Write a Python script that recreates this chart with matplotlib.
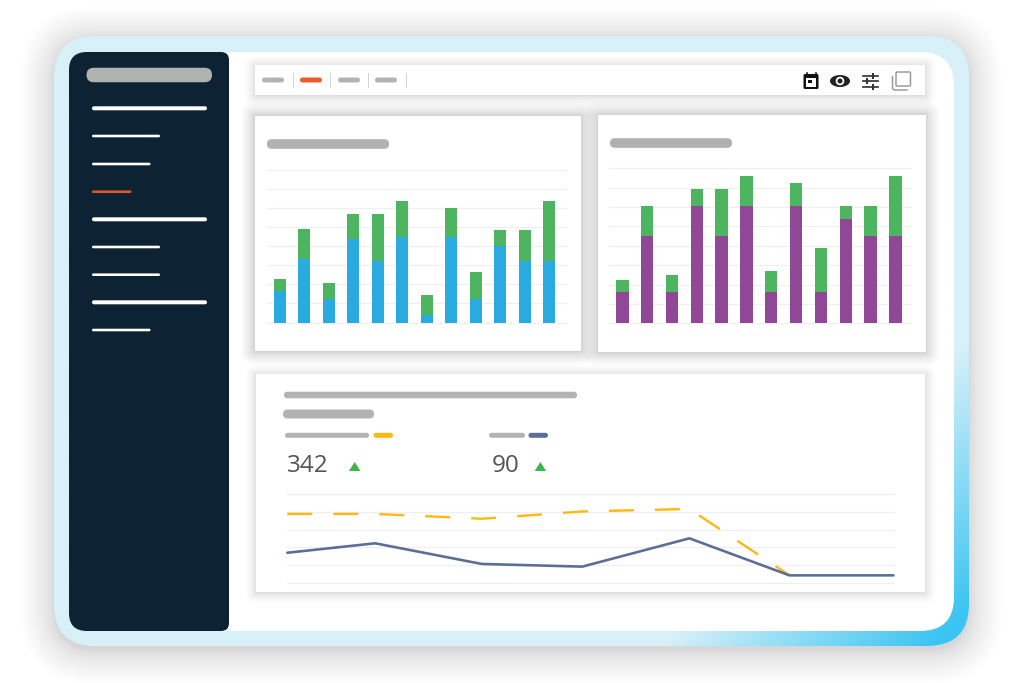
import numpy as np
import matplotlib
matplotlib.use("Agg")
import matplotlib.pyplot as plt
from matplotlib.colors import LinearSegmentedColormap
from matplotlib.patches import Circle, Ellipse, FancyBboxPatch, Polygon, Rectangle

plt.rcParams["font.family"] = ["Open Sans", "DejaVu Sans"]

W, H = 1024, 683

# Left stacked bars (in grid steps)
left_blue = [1.64, 3.33, 1.22, 4.37, 3.24, 4.49, 0.38, 4.49, 1.22, 3.99, 3.24, 3.24]
left_green = [0.61, 1.57, 0.87, 1.31, 2.44, 1.85, 1.05, 1.52, 1.41, 0.84, 1.59, 3.10]

# Right stacked bars
right_purple = [1.62, 4.49, 1.62, 6.07, 4.49, 6.07, 1.62, 6.07, 1.62, 5.40, 4.49, 4.49]
right_green = [0.62, 1.58, 0.88, 0.86, 2.44, 1.53, 1.07, 1.19, 2.25, 0.67, 1.58, 3.12]

# Bottom line chart, the yellow line stops where it meets the navy one
line_x = [0, 0.87, 1.925, 2.92, 3.98, 4.97, 6]
line_yellow = [3.88, 3.88, 3.61, 4.02, 4.16, 0.43]
line_navy = [1.70, 2.23, 1.07, 0.92, 2.51, 0.43, 0.43]

kpi_labels = ["342", "90"]

BLUE = "#29abe2"
GREEN = "#4db560"
PURPLE = "#904795"
YELLOW = "#fdb913"
NAVY = "#5a6e96"
ORANGE = "#f15a29"
GREY = "#b3b3b3"
GRID = "#efefef"
DARK = "#0d2233"


def px(v):
    # pixels to points
    return v * 72 / 100


def rrect(x0, y0, x1, y1, r, **kw):
    kw.setdefault("linewidth", 0)
    return FancyBboxPatch((x0 + r, y0 + r), x1 - x0 - 2 * r, y1 - y0 - 2 * r,
                          boxstyle="round,pad=%f,rounding_size=%f" % (r, r), **kw)


def pill(x0, x1, y, h, color):
    bg.add_patch(rrect(x0, y - h / 2, x1, y + h / 2, h / 2 - 0.01, facecolor=color))


def shadow(x0, y0, x1, y1, r, spread, alpha, dy=0, n=16):
    # denser layers close to the edge so the falloff looks blurred
    for i in range(n):
        s = spread * (1 - i / n) ** 1.6
        bg.add_patch(rrect(x0 - s, y0 - s + dy, x1 + s, y1 + s + dy, r + s,
                           facecolor="black", alpha=alpha / n))


def panel(x0, y0, x1, y1, spread, alpha, dy=0):
    shadow(x0, y0, x1, y1, 0.5, spread, alpha, dy)
    bg.add_patch(Rectangle((x0, y0), x1 - x0, y1 - y0, facecolor="white", linewidth=0))


def chart_axes(x0, y0, x1, y1):
    a = fig.add_axes([x0 / W, 1 - y1 / H, (x1 - x0) / W, (y1 - y0) / H])
    a.patch.set_alpha(0)
    for s in a.spines.values():
        s.set_visible(False)
    a.tick_params(length=0, labelbottom=False, labelleft=False)
    a.set_xticks([])
    a.set_axisbelow(True)
    a.grid(axis="y", color=GRID, linewidth=px(1.2))
    return a


def stacked(a, bottom_vals, top_vals, color):
    xs = np.arange(len(bottom_vals))
    a.bar(xs, bottom_vals, width=0.5, color=color)
    a.bar(xs, top_vals, width=0.5, bottom=bottom_vals, color=GREEN)
    a.set_yticks(range(9))
    a.set_ylim(0, 8)
    for g in a.get_ygridlines():
        g.set_clip_on(False)


fig = plt.figure(figsize=(W / 100, H / 100), dpi=100, facecolor="white")
bg = fig.add_axes([0, 0, 1, 1])
bg.set_xlim(0, W)
bg.set_ylim(H, 0)
bg.axis("off")

# Tablet frame
shadow(54, 36, 969, 646, 42, 34, 0.2, dy=4, n=40)
frame = rrect(54, 36, 969, 646, 42, facecolor="#d8f0f8")
bg.add_patch(frame)
cmap = LinearSegmentedColormap.from_list("frame", ["#d8f0f8", "#3bc4f2"])
gx, gy = np.meshgrid(np.linspace(0, W, 256), np.linspace(0, H, 256))
grad = np.clip((gx + gy - 1310) / 270, 0, 1)
im = bg.imshow(grad, extent=(0, W, H, 0), cmap=cmap, vmin=0, vmax=1,
               aspect="auto", interpolation="bilinear", zorder=1)
im.set_clip_path(frame)
bg.set_xlim(0, W)
bg.set_ylim(H, 0)
bg.add_patch(rrect(69, 52, 954, 631, 34, facecolor="white"))

# Sidebar
side_clip = rrect(69, 52, 320, 631, 18, facecolor="none", transform=bg.transData)
side = rrect(60, 52, 229, 631, 8, facecolor=DARK)
bg.add_patch(side)
side.set_clip_path(side_clip)
pill(86.5, 212, 75, 14.5, "#b0b2b0")
for y, x1, h, c in [(108.3, 207, 4, "white"), (136, 160, 2.6, "white"), (164, 150.5, 2.6, "white"),
                    (191.7, 131.5, 2.6, "#e2552b"), (219.3, 207, 4, "white"), (247, 160, 2.6, "white"),
                    (274.7, 160, 2.6, "white"), (302.3, 207, 4, "white"), (330, 150.5, 2.6, "white")]:
    pill(92, x1, y, h, c)

# Bar panels go first, the toolbar sits over their soft top shadow
panel(255, 116, 581, 351, 14, 0.2)
pill(267, 389, 144, 9.6, "#b0b2b0")
panel(598, 115, 925.5, 352, 14, 0.2)
pill(610, 732, 143, 9.6, "#b0b0b0")

# Toolbar
panel(255, 65, 925, 95, 10, 0.1, dy=1)
for x0, c in [(262, GREY), (300, ORANGE), (338, GREY), (375, GREY)]:
    pill(x0, x0 + 22, 80, 5, c)
for x in [292.7, 330.3, 368, 405.7]:
    bg.plot([x, x], [73, 87], color="#d4d4d4", linewidth=px(1))

# Calendar icon
bg.add_patch(rrect(803.5, 74, 818.5, 89, 1.5, facecolor="#111111"))
bg.add_patch(Rectangle((806, 78), 10, 8.5, facecolor="white", linewidth=0))
bg.add_patch(Rectangle((808, 80), 3.5, 3.2, facecolor="#111111", linewidth=0))
for x in [806.5, 815.5]:
    bg.plot([x, x], [72.5, 75], color="#111111", linewidth=px(1.6))

# Eye icon
bg.add_patch(Ellipse((840, 81), 20, 12, facecolor="#222222", linewidth=0))
bg.add_patch(Circle((840, 81), 4.3, facecolor="white", linewidth=0))
bg.add_patch(Circle((840, 81), 2.5, facecolor="#222222", linewidth=0))

# Sliders icon
for y, tab in [(75.8, 873), (81, 867), (86.5, 872.5)]:
    bg.plot([863, 878], [y, y], color="#333333", linewidth=px(1.7))
    bg.add_patch(Rectangle((tab - 1, y - 3), 2, 6, facecolor="#333333", linewidth=0))
    bg.add_patch(Rectangle((tab + 1, y - 1.2), 1.3, 2.4, facecolor="white", linewidth=0))

# Copy icon
bg.add_patch(rrect(896, 72, 910.5, 86, 1, facecolor="white", edgecolor="#9a9a9a", linewidth=px(1.5)))
bg.plot([892.5, 892.5, 894, 907], [76.5, 88.5, 90, 90], color="#9a9a9a", linewidth=px(1.5))

# Bottom panel
panel(256, 374, 925, 592, 10, 0.1, dy=1)
pill(284, 577, 395, 6.6, GREY)
pill(283, 374, 414, 9, GREY)
pill(285, 369, 435.3, 5, GREY)
pill(373.5, 393, 435.3, 5, YELLOW)
pill(489, 525, 435.3, 5, GREY)
pill(528.5, 548, 435.3, 5, NAVY)

for x, tri_x, label in zip([287, 492], [349, 534.7], kpi_labels):
    bg.text(x, 472, label, fontsize=17.5, color="#555555", va="baseline", ha="left")
    bg.add_patch(Polygon([(tri_x, 471), (tri_x + 11.4, 471), (tri_x + 5.7, 462)],
                         facecolor="#39b54a", linewidth=0))

# Charts
ax1 = chart_axes(267, 169.5, 566, 322.5)
stacked(ax1, left_blue, left_green, BLUE)
ax1.set_xlim(-0.518, 11.68)

ax2 = chart_axes(609.3, 168.3, 910.7, 323.3)
stacked(ax2, right_purple, right_green, PURPLE)
ax2.set_xlim(-0.53, 11.62)

ax3 = chart_axes(287.3, 494, 893.5, 583)
ax3.set_yticks(range(6))
ax3.set_ylim(0, 5)
ax3.set_xlim(0, 6)
for g in ax3.get_ygridlines():
    g.set_clip_on(False)
ax3.plot(line_x[:len(line_yellow)], line_yellow, color=YELLOW, linewidth=px(2.4), clip_on=False,
         linestyle=(0, (25 / 2.4, 21 / 2.4)), dash_capstyle="butt")
ax3.plot(line_x, line_navy, color=NAVY, linewidth=px(2.6), clip_on=False, solid_capstyle="round")

fig.savefig("out.png", dpi=100)
